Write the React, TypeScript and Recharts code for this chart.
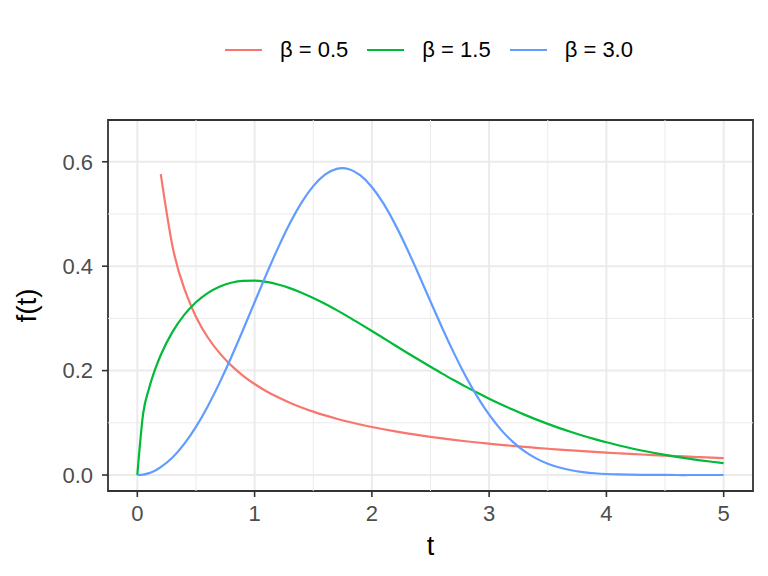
import React from 'react'
import {
  LineChart,
  Line,
  XAxis,
  YAxis,
  CartesianGrid,
  ReferenceLine,
  ReferenceArea,
  Legend
} from 'recharts'

// t grid and density values
const tValues = [
  0, 0.05, 0.1, 0.15, 0.2, 0.3, 0.4, 0.5, 0.6, 0.7, 0.8, 0.9, 1.0,
  1.1, 1.2, 1.3, 1.4, 1.5, 1.6, 1.7, 1.8, 1.9, 2.0,
  2.1, 2.2, 2.3, 2.4, 2.5, 2.6, 2.7, 2.8, 2.9, 3.0,
  3.1, 3.2, 3.3, 3.4, 3.5, 3.6, 3.7, 3.8, 3.9, 4.0,
  4.1, 4.2, 4.3, 4.4, 4.5, 4.6, 4.7, 4.8, 4.9, 5.0,
]

const beta05 = [
  null, null, null, null, 0.5763, 0.4382, 0.3574, 0.3033, 0.2639, 0.2339, 0.21, 0.1905, 0.1743,
  0.1606, 0.1488, 0.1385, 0.1294, 0.1214, 0.1143, 0.1079, 0.102, 0.0968, 0.092,
  0.0876, 0.0835, 0.0798, 0.0763, 0.0731, 0.0701, 0.0673, 0.0647, 0.0623, 0.06,
  0.0578, 0.0558, 0.0539, 0.0521, 0.0503, 0.0487, 0.0472, 0.0457, 0.0443, 0.043,
  0.0417, 0.0405, 0.0393, 0.0382, 0.0372, 0.0362, 0.0352, 0.0343, 0.0334, 0.0325,
]

const beta15 = [
  0, 0.1181, 0.1658, 0.2012, 0.2298, 0.2741, 0.3067, 0.3309, 0.3485, 0.3607, 0.3683, 0.372, 0.3724,
  0.3699, 0.365, 0.358, 0.3493, 0.3392, 0.328, 0.3158, 0.303, 0.2896, 0.2759,
  0.262, 0.2481, 0.2343, 0.2207, 0.2073, 0.1942, 0.1816, 0.1693, 0.1576, 0.1463,
  0.1356, 0.1254, 0.1157, 0.1066, 0.098, 0.0899, 0.0824, 0.0753, 0.0688, 0.0627,
  0.0571, 0.0518, 0.047, 0.0426, 0.0385, 0.0348, 0.0313, 0.0282, 0.0254, 0.0228,
]

const beta30 = [
  0, 0.0009, 0.0037, 0.0084, 0.015, 0.0336, 0.0595, 0.0923, 0.1314, 0.176, 0.2251, 0.2773, 0.3309,
  0.3842, 0.4351, 0.4816, 0.5216, 0.5533, 0.5753, 0.5864, 0.5861, 0.5743, 0.5518,
  0.5197, 0.4796, 0.4335, 0.3837, 0.3324, 0.2817, 0.2335, 0.1891, 0.1496, 0.1155,
  0.087, 0.0639, 0.0457, 0.0319, 0.0216, 0.0143, 0.0091, 0.0057, 0.0034, 0.002,
  0.0011, 0.0006, 0.0003, 0.0002, 0.0001, 0, 0, 0, 0, 0,
]

const xTicks = [0, 1, 2, 3, 4, 5]
const xMinor = [0.5, 1.5, 2.5, 3.5, 4.5]
const yTicks = [0, 0.2, 0.4, 0.6]
const yMinor = [0.1, 0.3, 0.5]

const seriesNames = ['β = 0.5', 'β = 1.5', 'β = 3.0']
const seriesKeys = ['b05', 'b15', 'b30']
const colors = ['#F8766D', '#00BA38', '#619CFF']
const curveTypes = ['natural', 'monotone', 'natural'] as const

const data = tValues.map((t, i) => ({
  t,
  b05: beta05[i],
  b15: beta15[i],
  b30: beta30[i],
}))

const X_DOMAIN = [-0.25, 5.25]
const Y_DOMAIN = [-0.0306, 0.68]
const FONT = '"Liberation Sans", Arial, sans-serif'

const LegendContent = () => (
  <div
    style={{
      display: 'flex',
      justifyContent: 'center',
      alignItems: 'center',
      height: 24,
      paddingLeft: 90,
      fontFamily: FONT,
      fontSize: 22,
      color: '#000',
    }}
  >
    {seriesNames.map((name, i) => (
      <div key={name} style={{ display: 'flex', alignItems: 'center', marginRight: i < 2 ? 19 : 0 }}>
        <svg width={37} height={4} style={{ marginRight: 18 }}>
          <line x1={0} y1={2} x2={37} y2={2} stroke={colors[i]} strokeWidth={2.2} />
        </svg>
        <span>{name}</span>
      </div>
    ))}
  </div>
)

export default function App() {
  return (
    <div style={{ position: 'absolute', left: 0, top: 0, background: '#fff' }}>
      <LineChart
        width={768}
        height={576}
        data={data}
        margin={{ top: 96, right: 15, bottom: 25, left: 48 }}
        style={{ fontFamily: FONT }}
      >
        <CartesianGrid
          stroke="#EBEBEB"
          strokeWidth={2}
          horizontalValues={yTicks}
          verticalValues={xTicks}
        />
        {xMinor.map((v) => (
          <ReferenceLine key={'x' + v} x={v} stroke="#EBEBEB" strokeWidth={1} />
        ))}
        {yMinor.map((v) => (
          <ReferenceLine key={'y' + v} y={v} stroke="#EBEBEB" strokeWidth={1} />
        ))}
        <XAxis
          dataKey="t"
          type="number"
          domain={X_DOMAIN}
          ticks={xTicks}
          allowDataOverflow
          height={60}
          tickSize={6}
          tickMargin={8}
          axisLine={false}
          tickLine={{ stroke: '#333333', strokeWidth: 1.6 }}
          tick={{ fill: '#4D4D4D', fontSize: 22 }}
          label={{ value: 't', position: 'insideBottom', offset: -4, fill: '#000', fontSize: 27 }}
        />
        <YAxis
          type="number"
          domain={Y_DOMAIN}
          ticks={yTicks}
          allowDataOverflow
          width={60}
          tickSize={6}
          tickMargin={9}
          axisLine={false}
          tickLine={{ stroke: '#333333', strokeWidth: 1.6 }}
          tick={{ fill: '#4D4D4D', fontSize: 22 }}
          tickFormatter={(v: number) => v.toFixed(1)}
          label={{ value: 'f(t)', angle: -90, position: 'insideLeft', offset: -22, fill: '#000', fontSize: 28, style: { textAnchor: 'middle' } }}
        />
        <Legend verticalAlign="top" wrapperStyle={{ top: 38, left: 0, width: 768 }} content={<LegendContent />} />
        {seriesKeys.map((k, i) => (
          <Line
            key={k}
            type={curveTypes[i]}
            dataKey={k}
            name={seriesNames[i]}
            stroke={colors[i]}
            strokeWidth={2.2}
            dot={false}
            activeDot={false}
            isAnimationActive={false}
          />
        ))}
        <ReferenceArea
          x1={X_DOMAIN[0]}
          x2={X_DOMAIN[1]}
          y1={Y_DOMAIN[0]}
          y2={Y_DOMAIN[1]}
          fill="none"
          stroke="#333333"
          strokeWidth={1.8}
          ifOverflow="visible"
        />
      </LineChart>
    </div>
  )
}
